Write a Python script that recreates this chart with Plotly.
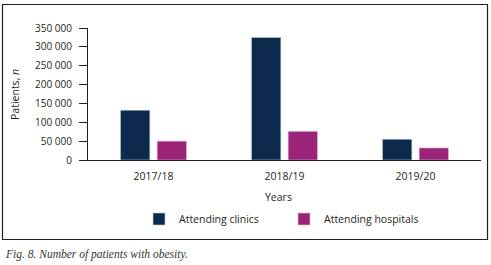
import plotly.graph_objects as go

years = ["2017/18", "2018/19", "2019/20"]
clinics = [132000, 325000, 55000]
hospitals = [50000, 76000, 32000]
y_ticks = [0, 50000, 100000, 150000, 200000, 250000, 300000, 350000]
y_tick_labels = ["0", "50 000", "100 000", "150 000", "200 000", "250 000", "300 000", "350 000"]

W, H = 491, 265
L, R, T, B = 88, 10, 28, 105
pw, ph = W - L - R, H - T - B

def px_x(x):
    return (x - L) / pw

def px_y(y):
    return (H - B - y) / ph

fnt = "Open Sans"
ink = "#231f20"

fig = go.Figure()
fig.add_trace(go.Bar(x=years, y=clinics, name="Attending clinics",
                     marker=dict(color="#0b2a4c", line=dict(color="#c8ccd6", width=0.6))))
fig.add_trace(go.Bar(x=years, y=hospitals, name="Attending hospitals",
                     marker=dict(color="#9b2479", line=dict(color="#e3bfd8", width=0.6))))

fig.update_layout(
    width=W, height=H,
    margin=dict(l=L, r=R, t=T, b=B, autoexpand=False),
    paper_bgcolor="white", plot_bgcolor="white",
    barmode="group", bargap=0.44, bargroupgap=0.2,
    font=dict(family=fnt, size=10, color=ink),
    showlegend=True,
    legend=dict(orientation="h", x=px_x(139), y=px_y(219), xanchor="left", yanchor="middle",
                font=dict(size=10.5, color=ink), entrywidth=100, entrywidthmode="pixels",
                itemwidth=30, bgcolor="rgba(0,0,0,0)"),
    xaxis=dict(showline=True, linecolor=ink, linewidth=1, ticks="", showgrid=False,
               tickfont=dict(size=10.5), range=[-0.5, 2.5], ticklabelstandoff=6),
    yaxis=dict(range=[0, 350000], tickvals=y_ticks, ticktext=y_tick_labels,
               showline=True, linecolor=ink, linewidth=1, ticks="outside", ticklen=8,
               tickcolor=ink, showgrid=False, zeroline=False, tickfont=dict(size=10),
               ticklabelstandoff=5),
    shapes=[dict(type="rect", xref="paper", yref="paper",
                 x0=px_x(2.5), x1=px_x(487.5), y0=px_y(239.5), y1=px_y(4.5),
                 line=dict(color=ink, width=1.2), fillcolor="rgba(0,0,0,0)")],
    annotations=[
        dict(text="Patients, <i>n</i>", xref="paper", yref="paper", x=px_x(15), y=px_y(95),
             xanchor="center", yanchor="middle", showarrow=False, textangle=-90,
             font=dict(size=10.5)),
        dict(text="Years", xref="paper", yref="paper", x=px_x(278), y=px_y(197),
             xanchor="center", yanchor="middle", showarrow=False, font=dict(size=10.5)),
        dict(text="<i>Fig. 8. Number of patients with obesity.</i>", xref="paper", yref="paper",
             x=px_x(3), y=px_y(254), xanchor="left", yanchor="middle", showarrow=False,
             font=dict(family="Liberation Serif", size=11.5, color="#333333")),
    ],
)

fig.write_html("out.html", config={"displayModeBar": False},
               post_script="document.body.style.margin='0';")
